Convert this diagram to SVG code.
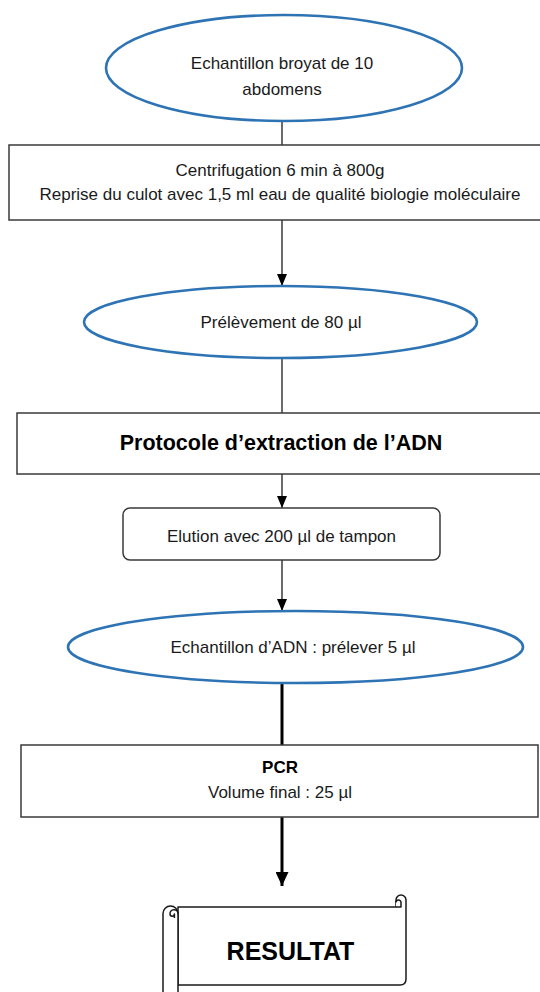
<svg xmlns="http://www.w3.org/2000/svg" width="540" height="992" viewBox="0 0 540 992">
<defs>
<style>
.oval{fill:#fff;stroke:#2e74b5;stroke-width:2.6}
.box{fill:#fff;stroke:#3a3a3a;stroke-width:1.5}
.t{font-family:"Liberation Sans",Arial,sans-serif;font-size:17px;fill:#1a1a1a;text-anchor:middle}
.b{font-weight:bold;fill:#000}
.c{fill:none;stroke:#3a3a3a;stroke-width:1.5}
.ck{fill:none;stroke:#000;stroke-width:3}
.scroll{fill:#fff;stroke:#1a1a1a;stroke-width:1.5;stroke-linejoin:round}
</style>
<marker id="ah" markerUnits="userSpaceOnUse" markerWidth="12" markerHeight="10" refX="12" refY="5" orient="auto" viewBox="0 0 12 10">
<path d="M0,0 L12,5 L0,10 z" fill="#000"/>
</marker>
<marker id="ahk" markerUnits="userSpaceOnUse" markerWidth="14" markerHeight="13" refX="14" refY="6.5" orient="auto" viewBox="0 0 14 13">
<path d="M0,0 L14,6.5 L0,13 z" fill="#000"/>
</marker>
</defs>

<g id="connectors">
<line class="c" x1="282" y1="121" x2="282" y2="145"/>
<line class="c" x1="282" y1="220" x2="282" y2="286" marker-end="url(#ah)"/>
<line class="c" x1="282" y1="358" x2="282" y2="413"/>
<line class="c" x1="282" y1="474" x2="282" y2="508" marker-end="url(#ah)"/>
<line class="c" x1="282" y1="553" x2="282" y2="611" marker-end="url(#ah)"/>
<line class="ck" x1="282" y1="683" x2="282" y2="745"/>
<line class="ck" x1="282" y1="817" x2="282" y2="886" marker-end="url(#ahk)"/>
</g>

<g id="n1">
<ellipse class="oval" cx="284" cy="68" rx="178" ry="53"/>
<text class="t" x="282" y="69">Echantillon broyat de 10</text>
<text class="t" x="282" y="95">abdomens</text>
</g>

<g id="n2">
<rect class="box" x="9" y="145" width="540" height="75"/>
<text class="t" x="280" y="176">Centrifugation 6 min à 800g</text>
<text class="t" x="280" y="200">Reprise du culot avec 1,5 ml eau de qualité biologie moléculaire</text>
</g>

<g id="n3">
<ellipse class="oval" cx="280.5" cy="322" rx="196.5" ry="36"/>
<text class="t" x="281" y="328">Prélèvement de 80 µl</text>
</g>

<g id="n4">
<rect class="box" x="17" y="413" width="535" height="61"/>
<text class="t b" x="281" y="450" style="font-size:21.5px">Protocole d’extraction de l’ADN</text>
</g>

<g id="n5">
<rect class="box" x="123" y="508" width="317" height="52" rx="7"/>
<text class="t" x="281.5" y="542">Elution avec 200 µl de tampon</text>
</g>

<g id="n6">
<ellipse class="oval" cx="295.5" cy="647" rx="227.5" ry="36"/>
<text class="t" x="293" y="653">Echantillon d’ADN : prélever 5 µl</text>
</g>

<g id="n7">
<rect class="box" x="21" y="745" width="517" height="72"/>
<text class="t b" x="280" y="773">PCR</text>
<text class="t" x="280" y="798">Volume final : 25 µl</text>
</g>

<g id="n8">
<path class="scroll" d="M178,907 H396 V900 A5,5 0 0 1 406,900 V979 Q406,985 400,985 H178 Z"/>
<path class="scroll" d="M396,907 H401 V902.5 A2.5,2.5 0 0 0 396,902.5" fill="none"/>
<path class="scroll" d="M163,1000 V913.5 A7.5,7.5 0 0 1 178,913.5 V1000 Z"/>
<path class="scroll" style="fill:none" d="M178,913.5 A4,4 0 0 0 170,914 A2.2,2.2 0 0 0 174.4,914 V918"/>
<text class="t b" x="290.5" y="960" style="font-size:25px">RESULTAT</text>
</g>
</svg>
